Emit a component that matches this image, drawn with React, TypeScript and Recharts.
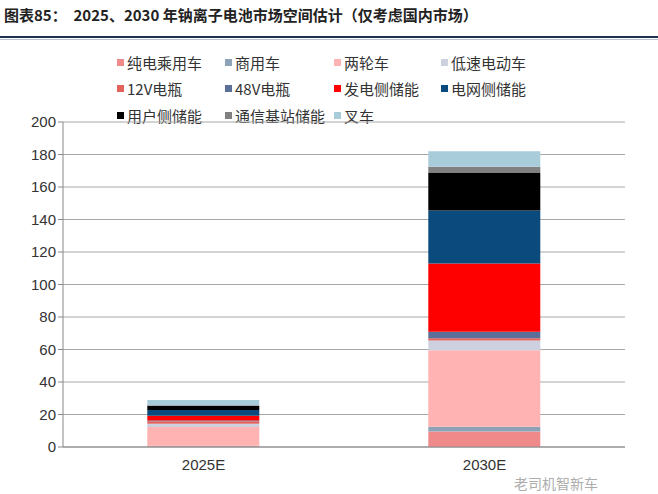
import React from 'react';
import { BarChart, Bar, XAxis, YAxis, CartesianGrid } from 'recharts';

const categories = ['2025E', '2030E'];

const seriesNames = [
  '纯电乘用车', '商用车', '两轮车', '低速电动车',
  '12V电瓶', '48V电瓶', '发电侧储能', '电网侧储能',
  '用户侧储能', '通信基站储能', '叉车',
];

const seriesColors = [
  '#F08A8A', '#8FA3B8', '#FFB3B3', '#CDD0DE',
  '#E2645C', '#5B6F98', '#FF0000', '#0B4A7C',
  '#000000', '#808080', '#A9CCDA',
];

// values for 2025E, 2030E per series
const pureEV = [0.5, 9.5];
const commercial = [0.3, 3];
const twoWheeler = [11.5, 47];
const lowSpeed = [2, 6];
const v12 = [1.5, 1.5];
const v48 = [0.5, 4];
const genStorage = [3, 42];
const gridStorage = [3.5, 32.5];
const userStorage = [2.5, 23.5];
const telecom = [0.4, 3.5];
const forklift = [3.3, 9.5];

const seriesValues = [
  pureEV, commercial, twoWheeler, lowSpeed, v12, v48,
  genStorage, gridStorage, userStorage, telecom, forklift,
];

const yTicks = [0, 20, 40, 60, 80, 100, 120, 140, 160, 180, 200];

const data = categories.map((name, i) => {
  const row: { [key: string]: string | number } = { name };
  seriesNames.forEach((s, j) => {
    row[s] = seriesValues[j][i];
  });
  return row;
});

const legendCols = [117, 225, 334, 441];
const legendRows = [62, 88, 115];

export default function App() {
  return (
    <div style={{ position: 'absolute', left: 0, top: 0, width: 658, height: 494, background: '#fff', overflow: 'hidden' }}>
      <div
        style={{
          position: 'absolute', left: 4, top: 4, fontSize: 15, fontWeight: 'bold', color: '#222',
          fontFamily: '"Noto Sans CJK SC", "Liberation Serif", serif', whiteSpace: 'nowrap',
        }}
      >
        图表85：&nbsp;&nbsp;2025、2030 年钠离子电池市场空间估计（仅考虑国内市场）
      </div>
      <div style={{ position: 'absolute', left: 0, top: 36, width: 658, height: 2, background: '#1F3350' }} />
      <div style={{ position: 'absolute', left: 0, top: 39, width: 658, height: 1, background: '#B8C0CC' }} />

      {seriesNames.map((s, i) => {
        const x = legendCols[i % 4];
        const y = legendRows[Math.floor(i / 4)];
        return (
          <div
            key={s}
            style={{
              position: 'absolute', left: x, top: y - 10, height: 20, display: 'flex', alignItems: 'center',
              fontSize: 15, color: '#333', fontFamily: '"Noto Sans CJK SC", serif', whiteSpace: 'nowrap',
            }}
          >
            <span style={{ display: 'inline-block', width: 7, height: 7, background: seriesColors[i], marginRight: 3 }} />
            {s}
          </div>
        );
      })}

      <div style={{ position: 'absolute', left: 0, top: 0 }}>
        <BarChart
          width={658}
          height={494}
          data={data}
          margin={{ top: 122, right: 33, left: 13, bottom: 17 }}
          barCategoryGap="30%"
        >
          <CartesianGrid vertical={false} stroke="#A8A8A8" />
          <XAxis
            dataKey="name"
            height={30}
            axisLine={{ stroke: '#888' }}
            tickLine={false}
            tick={{ fontSize: 15, fill: '#333', fontFamily: '"Liberation Sans", Arial, sans-serif' }}
            tickMargin={6}
          />
          <YAxis
            width={50}
            domain={[0, 200]}
            ticks={yTicks}
            axisLine={{ stroke: '#888' }}
            tickLine={{ stroke: '#888' }}
            tickSize={5}
            tick={{ fontSize: 15, fill: '#333', fontFamily: '"Liberation Sans", Arial, sans-serif' }}
            interval={0}
          />
          {seriesNames.map((s, i) => (
            <Bar key={s} dataKey={s} stackId="a" fill={seriesColors[i]} isAnimationActive={false} />
          ))}
        </BarChart>
      </div>

      <div
        style={{
          position: 'absolute', left: 514, top: 475, fontSize: 14, lineHeight: '16px', color: '#999',
          fontFamily: '"Noto Sans CJK SC", sans-serif', whiteSpace: 'nowrap', opacity: 0.8,
        }}
      >
        老司机智新车
      </div>
    </div>
  );
}
